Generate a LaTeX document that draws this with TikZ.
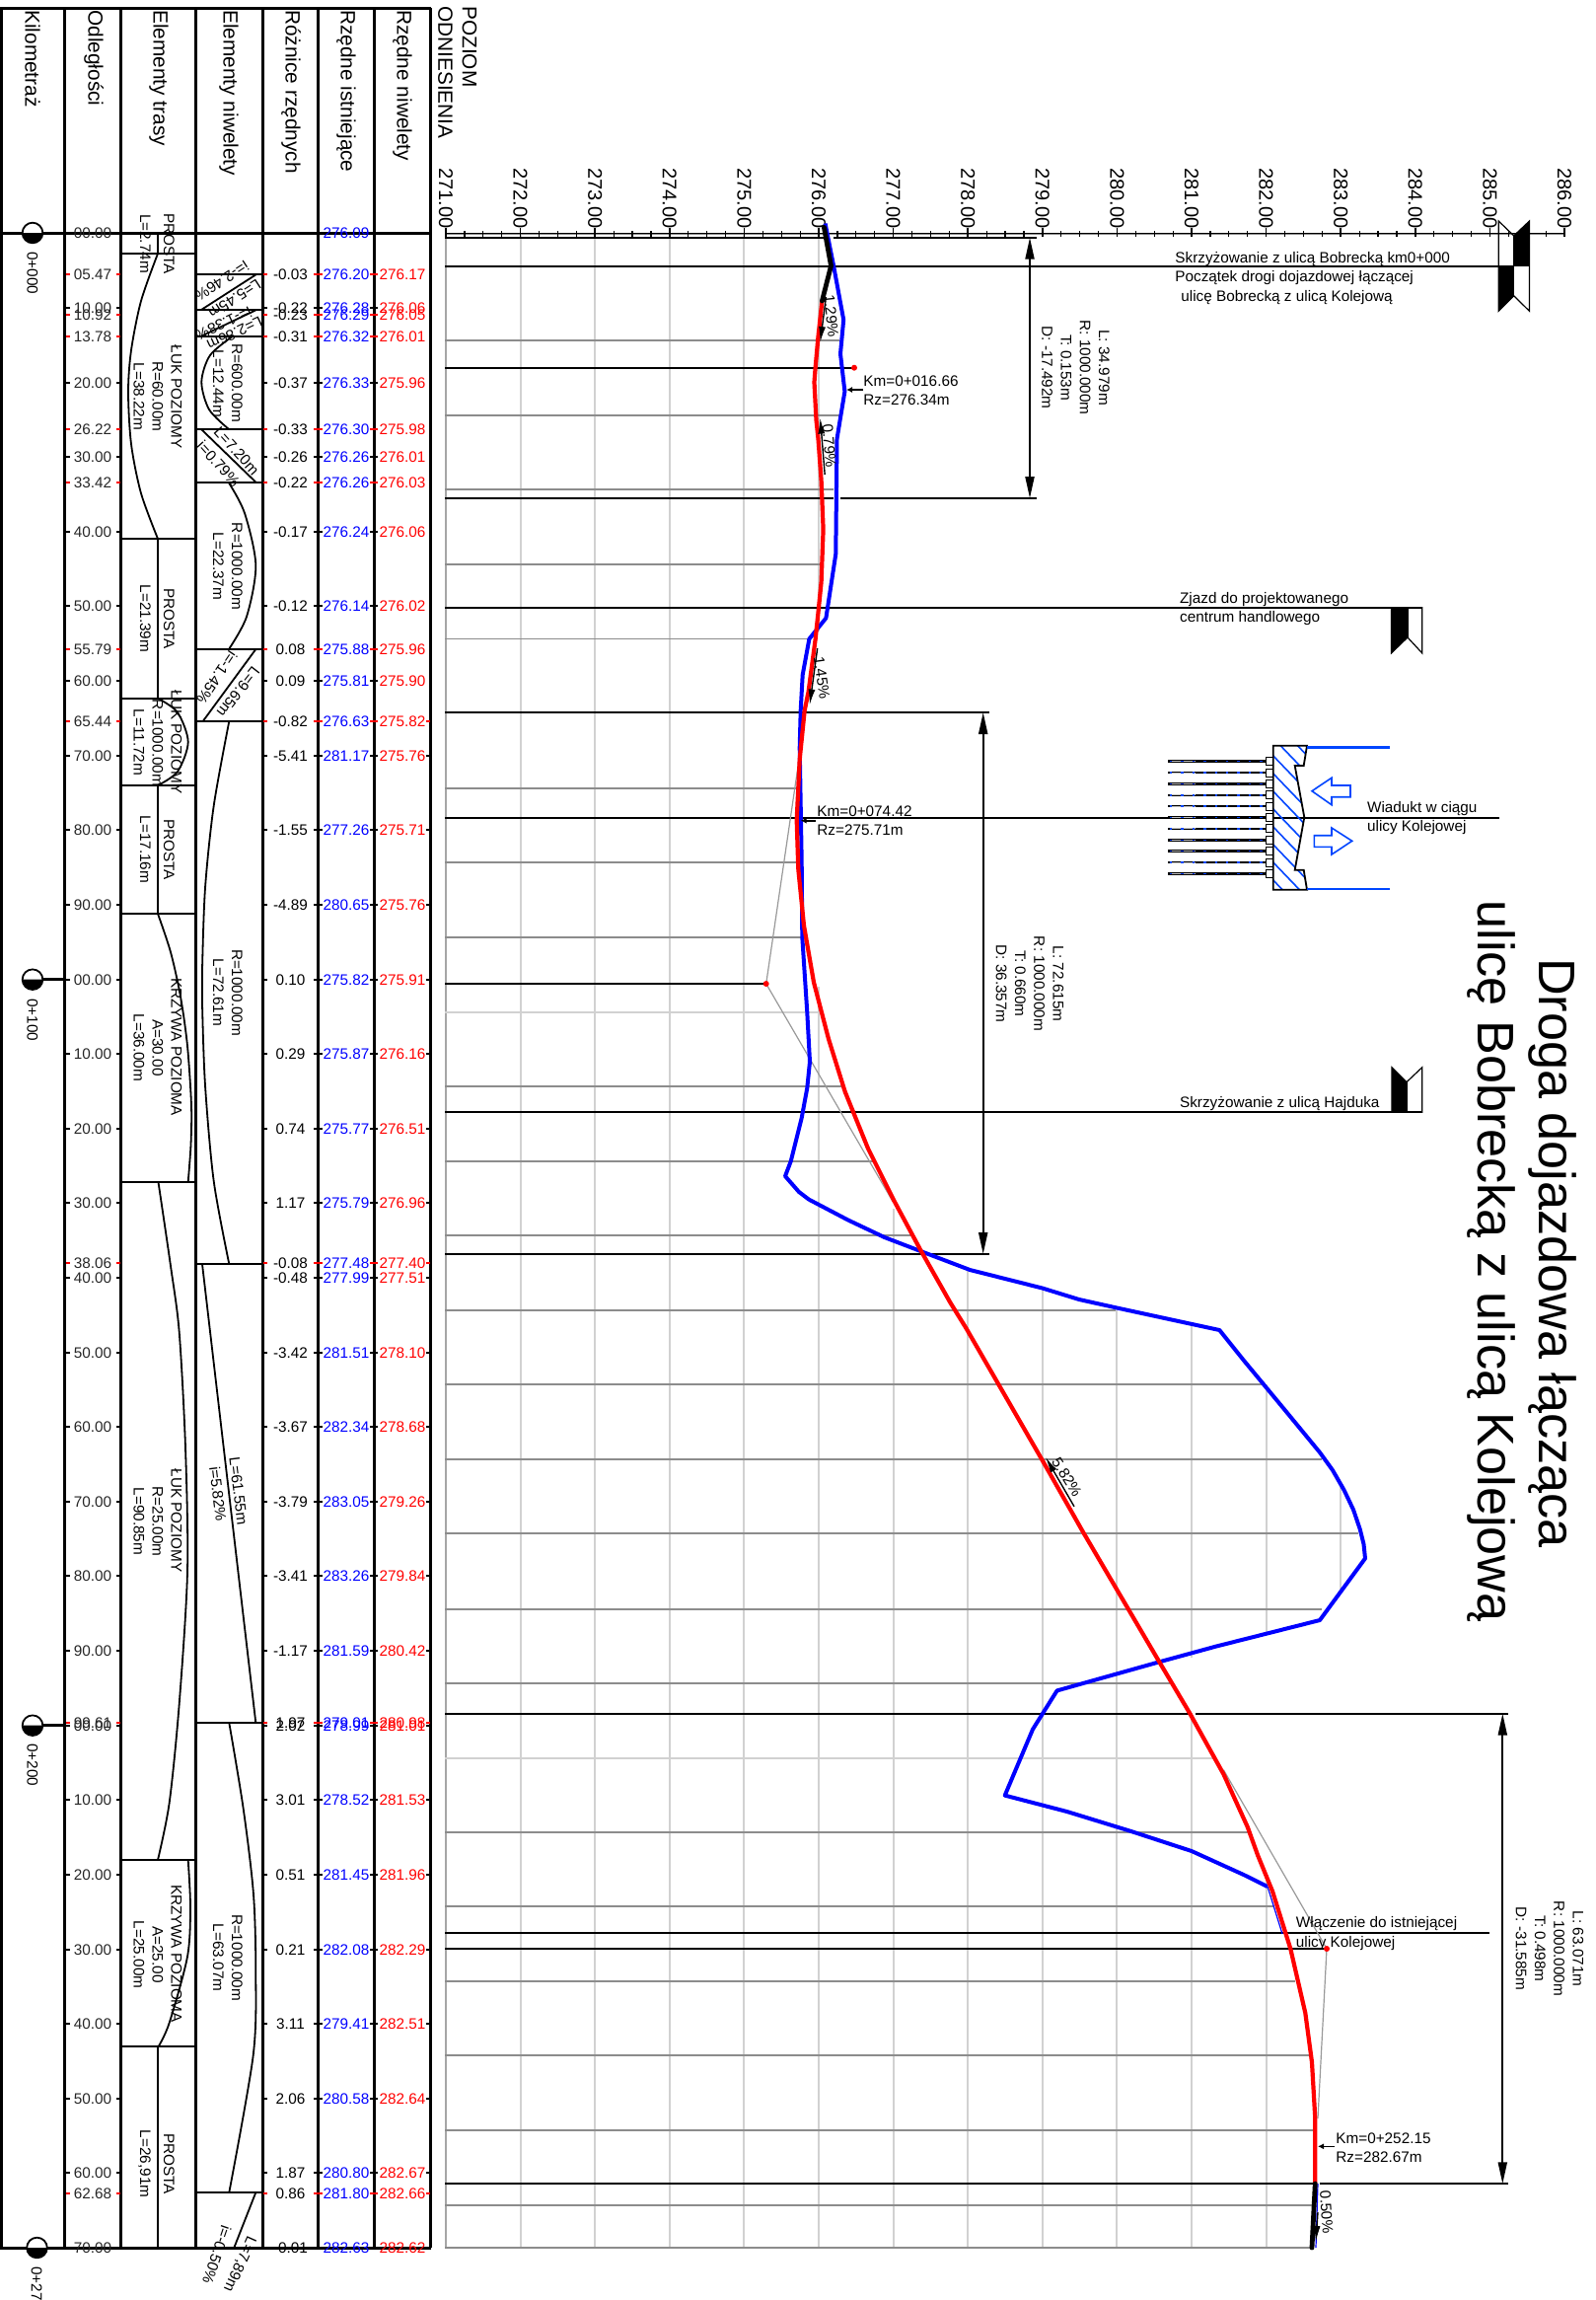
\documentclass[tikz,border=0pt]{standalone}
\usepackage{fontspec}
\setmainfont{Liberation Sans}
\usetikzlibrary{arrows.meta}
\definecolor{hatchblue}{RGB}{0,70,255}

\tikzset{
  frameline/.style={line width=1.5pt, black},
  partline/.style={line width=1.1pt, black},
  curveline/.style={line width=0.9pt, black},
  rowline/.style={line width=1pt, black},
  rowgray/.style={line width=0.9pt, black!45},
  gridline/.style={line width=1pt, black!18},
  tangent/.style={line width=0.6pt, black!40},
  rowtick/.style={line width=1pt},
  headtext/.style={rotate=-90, anchor=west, inner sep=0pt, font=\fontsize{10.4}{12}\selectfont},
  leveltext/.style={rotate=-90, anchor=east, inner sep=0pt, font=\fontsize{10}{12}\selectfont},
  celltext/.style={inner sep=0pt, text height=5.5pt, text depth=0pt, font=\fontsize{7.65}{9.6}\selectfont},
  turned/.style={celltext, rotate=-90},
  note/.style={celltext, anchor=west, align=left},
  curvedata/.style={rotate=-90, inner sep=0pt, align=center, font=\fontsize{7.65}{9.6}\selectfont},
  dimarrow/.style={line width=1pt, {Triangle[length=11pt,width=4.5pt]}-{Triangle[length=11pt,width=4.5pt]}},
  kmarrow/.style={line width=0.8pt, -{Latex[length=3pt,width=3pt]}},
  slopearrow/.style={line width=0.7pt, -{Latex[length=8pt,width=3.5pt]}},
  signline/.style={line width=0.6pt, black},
  niveline/.style={line width=2.1pt, red},
  terrain/.style={line width=2pt, blue},
  endline/.style={line width=2.4pt, black, line cap=round},
  bluerail/.style={line width=1.2pt, hatchblue},
  bluearrow/.style={line width=0.8pt, hatchblue, line join=miter},
  kmsign/.pic={
    \draw[line width=0.9pt, fill=white] (0,0) circle (10.3);
    \fill (-10.3,0) arc (180:0:10.3) -- cycle;
  }
}

% one row of the table: key, station, distance, difference, existing, design, tick colour
\newcommand{\tablerow}[7]{
  \pgfmathsetmacro{\rowy}{236.3+7.562*#2}
  \draw[rowtick,#7] (67,\rowy) -- (71,\rowy) (118,\rowy) -- (122,\rowy) (267,\rowy) -- (271,\rowy)
    (318,\rowy) -- (327,\rowy) (375,\rowy) -- (383,\rowy);
  \ifdim#2pt>60pt \draw[rowtick,#7] (432,\rowy) -- (436,\rowy); \fi
  \node[celltext, black!85] (#1d) at (94,\rowy) {#3};
  \node[celltext] (#1r) at (294.5,\rowy) {#4};
  \node[celltext, blue] (#1i) at (351,\rowy) {#5};
  \node[celltext, red] (#1n) at (408,\rowy) {#6};
}

\begin{document}
\begin{tikzpicture}[x=0.5pt, y=-0.5pt]
  \useasboundingbox (0,0) rectangle (1618,2331);

  % grid of the profile
  \foreach \gx in {527.6,603.2,678.8,754.4}
    \draw[gridline] (\gx,236) -- (\gx,2278);
  \draw[line width=1pt, black!35] (452,236) -- (452,2278);
  \draw[gridline] (830,236) -- (830,640) (830,1000) -- (830,2278);
  \draw[gridline] (905.6,1225) -- (905.6,2278);
  \draw[gridline] (981.2,1287) -- (981.2,2278);
  \draw[gridline] (1056.8,1305) -- (1056.8,2278);
  \draw[gridline] (1132.4,1326) -- (1132.4,2278);
  \draw[gridline] (1208,1343) -- (1208,1680) (1208,1736) -- (1208,2278);
  \draw[gridline] (1283.6,1403) -- (1283.6,1655) (1283.6,1900) -- (1283.6,2278);
  \draw[gridline] (1359,1506) -- (1359,1612);
  \foreach \ry/\rx in {345/851,421/851,496/845,571.7/832.6,647.5/819.6,799/806.7,874/808,950/813,1101/853,
      1177/885,1252/927,1328/1131,1403/1281,1479/1340,1554/1377,1631/1340,1706/1187,1857/1265,
      1932/1292,2008/1313,2083/1327,2159/1332,2235/1331,2278/1330}
    \draw[rowgray] (451,\ry) -- (\rx,\ry);
  \draw[gridline] (451,1026) -- (830,1026) (451,1781.5) -- (1232,1781.5);

  % level axis
  \draw[line width=1.2pt, black!45] (451,236.7) -- (1586,236.7);
  \draw[line width=0.5pt] (451,236.7) -- (1586,236.7);
  \foreach \k in {0,...,60}
    \draw[line width=0.6pt] ({452+18.9*\k},234) -- ({452+18.9*\k},240);
  \foreach \lv [count=\k from 0] in {271,...,286} {
    \draw[line width=0.8pt] ({452+75.6*\k},231) -- ({452+75.6*\k},240);
    \node[leveltext] (lv\lv) at ({452+75.6*\k},232) {\lv.00};
  }

  % table frame
  \foreach \cx in {1.5,65.7,122.7,198,266,322.7,379.3,436.7}
    \draw[frameline] (\cx,8) -- (\cx,2278);
  \draw[frameline] (0,8) -- (437,8);
  \draw[frameline] (0,236) -- (437,236);
  \draw[frameline] (0,2278) -- (437,2278);

  \node[headtext] (kmhead) at (33,10) {Kilometraż};
  \node[headtext] (disthead) at (95,10) {Odległości};
  \node[headtext] (routehead) at (161,10) {Elementy trasy};
  \node[headtext] (gradehead) at (232,10) {Elementy niwelety};
  \node[headtext] (diffhead) at (295,10) {Różnice rzędnych};
  \node[headtext] (existhead) at (351,10) {Rzędne istniejące};
  \node[headtext] (designhead) at (408,10) {Rzędne niwelety};
  \node[headtext] (levelhead) at (476,6) {POZIOM};
  \node[headtext] (refhead) at (451.5,6) {ODNIESIENIA};

  % kilometre column
  \draw[frameline] (33,992.7) -- (65.7,992.7) (33,1748.7) -- (65.7,1748.7);
  \pic at (33,236) {kmsign};
  \pic at (33,992.7) {kmsign};
  \pic at (33,1748.7) {kmsign};
  \pic at (37.5,2278) {kmsign};
  \node[turned, anchor=west] (km0) at (33,255) {0+000};
  \node[turned, anchor=west] (km100) at (33,1012) {0+100};
  \node[turned, anchor=west] (km200) at (33,1767) {0+200};
  \node[turned, anchor=west] (km270) at (37.5,2297) {0+27};

  % rows
  \tablerow{a}{0}{00.00}{}{276.09}{}{black}
  \tablerow{b}{5.47}{05.47}{-0.03}{276.20}{276.17}{red}
  \tablerow{c}{10}{10.00}{-0.22}{276.28}{276.06}{black}
  \tablerow{d}{10.92}{10.92}{-0.23}{276.29}{276.05}{red}
  \tablerow{e}{13.78}{13.78}{-0.31}{276.32}{276.01}{red}
  \tablerow{f}{20}{20.00}{-0.37}{276.33}{275.96}{black}
  \tablerow{g}{26.22}{26.22}{-0.33}{276.30}{275.98}{red}
  \tablerow{h}{30}{30.00}{-0.26}{276.26}{276.01}{black}
  \tablerow{i}{33.42}{33.42}{-0.22}{276.26}{276.03}{red}
  \tablerow{j}{40}{40.00}{-0.17}{276.24}{276.06}{black}
  \tablerow{k}{50}{50.00}{-0.12}{276.14}{276.02}{black}
  \tablerow{l}{55.79}{55.79}{0.08}{275.88}{275.96}{red}
  \tablerow{m}{60}{60.00}{0.09}{275.81}{275.90}{black}
  \tablerow{n}{65.44}{65.44}{-0.82}{276.63}{275.82}{red}
  \tablerow{o}{70}{70.00}{-5.41}{281.17}{275.76}{black}
  \tablerow{p}{80}{80.00}{-1.55}{277.26}{275.71}{black}
  \tablerow{q}{90}{90.00}{-4.89}{280.65}{275.76}{black}
  \tablerow{r}{100}{00.00}{0.10}{275.82}{275.91}{black}
  \tablerow{s}{110}{10.00}{0.29}{275.87}{276.16}{black}
  \tablerow{t}{120}{20.00}{0.74}{275.77}{276.51}{black}
  \tablerow{u}{130}{30.00}{1.17}{275.79}{276.96}{black}
  \tablerow{v}{138.06}{38.06}{-0.08}{277.48}{277.40}{red}
  \tablerow{w}{140}{40.00}{-0.48}{277.99}{277.51}{black}
  \tablerow{x}{150}{50.00}{-3.42}{281.51}{278.10}{black}
  \tablerow{y}{160}{60.00}{-3.67}{282.34}{278.68}{black}
  \tablerow{z}{170}{70.00}{-3.79}{283.05}{279.26}{black}
  \tablerow{aa}{180}{80.00}{-3.41}{283.26}{279.84}{black}
  \tablerow{ab}{190}{90.00}{-1.17}{281.59}{280.42}{black}
  \tablerow{ac}{199.61}{99.61}{1.97}{279.01}{280.98}{red}
  \tablerow{ad}{200}{00.00}{2.02}{278.99}{281.01}{black}
  \tablerow{ae}{210}{10.00}{3.01}{278.52}{281.53}{black}
  \tablerow{af}{220}{20.00}{0.51}{281.45}{281.96}{black}
  \tablerow{ag}{230}{30.00}{0.21}{282.08}{282.29}{black}
  \tablerow{ah}{240}{40.00}{3.11}{279.41}{282.51}{black}
  \tablerow{ai}{250}{50.00}{2.06}{280.58}{282.64}{black}
  \tablerow{aj}{260}{60.00}{1.87}{280.80}{282.67}{black}
  \tablerow{ak}{262.68}{62.68}{0.86}{281.80}{282.66}{red}
  \tablerow{al}{270}{70.00}{-0.01}{282.63}{282.62}{black}

  % route elements
  \draw[partline] (122.7,257) -- (198,257) (122.7,546) -- (198,546) (122.7,707.7) -- (198,707.7)
    (122.7,796) -- (198,796) (122.7,926) -- (198,926) (122.7,1198) -- (198,1198)
    (122.7,1885) -- (198,1885) (122.7,2074) -- (198,2074);
  \draw[partline] (160,236) -- (160,257) (160,546) -- (160,707.7) (160,796) -- (160,926) (160,2074) -- (160,2278);
  \draw[curveline] plot[smooth] coordinates {(160,257) (143,305) (133,355) (130,397) (133,450) (143,500) (160,546)};
  \draw[curveline] plot[smooth] coordinates {(160,707.7) (180,722) (190.7,752) (180,782) (160,796)};
  \draw[curveline] plot[smooth] coordinates {(160,926) (173,965) (183,1010) (190,1060) (194,1120) (193.5,1160) (190.7,1198)};
  \draw[curveline] plot[smooth] coordinates {(160.5,1198) (173,1283) (181.7,1350) (188,1467) (190,1593) (181.7,1727) (171.7,1827) (160,1885)};
  \draw[curveline] plot[smooth] coordinates {(190.7,1885) (193,1933) (190,1983) (171.7,2050) (160.7,2074)};
  \node[turned] (rtA) at (171.7,247) {PROSTA};
  \node[turned] (rtB) at (147.7,247) {L=2.74m};
  \node[turned] (rtC) at (179,402) {ŁUK POZIOMY};
  \node[turned] (rtD) at (160,402) {R=60.00m};
  \node[turned] (rtE) at (141,402) {L=38.22m};
  \node[turned] (rtF) at (171.7,627) {PROSTA};
  \node[turned] (rtG) at (147.7,627) {L=21.39m};
  \node[turned] (rtH) at (179,752) {ŁUK POZIOMY};
  \node[turned] (rtI) at (160,753) {R=1000.00m};
  \node[turned] (rtJ) at (141,752.5) {L=11.72m};
  \node[turned] (rtK) at (171.7,861) {PROSTA};
  \node[turned] (rtL) at (147.7,861) {L=17.16m};
  \node[turned] (rtM) at (179,1061) {KRZYWA POZIOMA};
  \node[turned] (rtN) at (160,1062) {A=30.00};
  \node[turned] (rtO) at (141,1062) {L=36.00m};
  \node[turned] (rtP) at (179,1541) {ŁUK POZIOMY};
  \node[turned] (rtQ) at (160,1542) {R=25.00m};
  \node[turned] (rtR) at (141,1542) {L=90.85m};
  \node[turned] (rtS) at (179,1980) {KRZYWA POZIOMA};
  \node[turned] (rtT) at (160,1981) {A=25.00};
  \node[turned] (rtU) at (141,1981) {L=25.00m};
  \node[turned] (rtV) at (171.7,2193) {PROSTA};
  \node[turned] (rtW) at (147.7,2193) {L=26,91m};

  % grade elements
  \draw[partline] (198,278) -- (266,278) (198,314) -- (266,314) (198,340.7) -- (266,340.7)
    (198,435) -- (266,435) (198,489.3) -- (266,489.3) (198,658) -- (266,658) (198,731) -- (266,731)
    (198,1281) -- (266,1281) (198,1746) -- (266,1746) (198,2222) -- (266,2222);
  \draw[curveline] (260,278) -- (204,314);
  \draw[curveline] (260,314) -- (204,340.7);
  \draw[curveline] (204,435) -- (260,489.3);
  \draw[curveline] (259.3,658) -- (205.7,731);
  \draw[curveline] (205,1281) -- (259.3,1746);
  \draw[curveline] (259.3,2222) -- (237.3,2278);
  \draw[curveline] plot[smooth] coordinates {(236,340.7) (213,360) (204.3,387) (212,415) (232,435)};
  \draw[curveline] plot[smooth] coordinates {(232,489.3) (248,520) (259.3,573) (250,625) (232,658)};
  \draw[curveline] plot[smooth] coordinates {(232.3,731) (216.7,816.7) (208,900) (205,983) (205,1017) (208,1100) (216.7,1197) (232.3,1281)};
  \draw[curveline] plot[smooth] coordinates {(232.3,1746) (246.7,1833) (257,1920) (259.3,2000) (256.7,2083) (232.3,2222)};
  \node[celltext, rotate=-147] (grA) at (225,285) {i=-2.46\%};
  \node[celltext, rotate=-147] (grB) at (238,303) {L=5.45m};
  \node[celltext, rotate=-155] (grC) at (226.7,328) {i=-1.38\%};
  \node[celltext, rotate=-155] (grD) at (238,338) {L=2.86m};
  \node[turned] (grE) at (240.7,388) {R=600.00m};
  \node[turned] (grF) at (221.7,389) {L=12.44m};
  \node[celltext, rotate=-48] (grG) at (221.7,470) {i=0.79\%};
  \node[celltext, rotate=-48] (grH) at (240,456.7) {L=7.20m};
  \node[turned] (grI) at (240.7,574) {R=1000.00m};
  \node[turned] (grJ) at (221.7,574) {L=22.37m};
  \node[celltext, rotate=-124] (grK) at (220,686.7) {i=-1.45\%};
  \node[celltext, rotate=-128] (grL) at (241.7,701.7) {L=9.65m};
  \node[turned] (grM) at (240.7,1006) {R=1000.00m};
  \node[turned] (grN) at (221.7,1006) {L=72.61m};
  \node[celltext, rotate=-83] (grO) at (242,1511) {L=61.55m};
  \node[celltext, rotate=-83] (grP) at (221,1514) {i=5.82\%};
  \node[turned] (grQ) at (240.7,1984) {R=1000.00m};
  \node[turned] (grR) at (221.7,1984) {L=63.07m};
  \node[celltext, rotate=-109] (grS) at (220,2285) {i=-0.50\%};
  \node[celltext, rotate=-114] (grT) at (244,2295) {L=7,89m};

  % long lines of the profile
  \draw[rowline] (451,240.7) -- (835,240.7) (845,240.7) -- (1051,240.7);
  \draw[rowline] (451,269.5) -- (1519,269.5);
  \draw[rowline] (451,372.7) -- (866,372.7);
  \draw[rowline] (451,505) -- (845,505) (852.4,505) -- (1051,505);
  \draw[rowline] (451,615.6) -- (1441.8,615.6);
  \draw[rowline] (451,722) -- (1002.7,722);
  \draw[rowline] (451,829) -- (1520,829);
  \draw[rowline] (451,996.7) -- (776,996.7);
  \draw[rowline] (451,1127.3) -- (1441.7,1127.3);
  \draw[rowline] (451,1271) -- (1002.7,1271);
  \draw[rowline] (451,1736.6) -- (1206,1736.6) (1212,1736.6) -- (1529,1736.6);
  \draw[rowline] (451,1959) -- (1510,1959);
  \draw[rowline] (451,1975) -- (1345,1975);
  \draw[rowline] (451,2213.3) -- (1333,2213.3) (1338,2213.3) -- (1529,2213.3);

  % tangents
  \coordinate (vertexA) at (776.7,997);
  \coordinate (vertexB) at (1345,1975);
  \draw[tangent] (810,770) -- (vertexA) -- (905,1217.5);
  \draw[tangent] (1240.4,1793.7) -- (vertexB) -- (1336,2147);
  \fill[red] (866,372.7) circle (3);
  \fill[red] (vertexA) circle (3);
  \fill[red] (vertexB) circle (3);

  % existing ground
  \draw[terrain, line join=round] plot coordinates {(836.6,226.5) (845.3,270.5) (855.2,324) (852,358.6) (856.4,396.8)
    (848.5,444.7) (847.3,561.4) (837.4,626.4) (820.4,647.5) (813.7,683.9) (811.7,720) (810.7,758) (812.7,873)
    (813.3,949.6) (818.3,1026) (821,1076) (818.3,1102.7) (812.7,1133) (801.7,1177) (796,1192) (810,1208)
    (820,1215.6) (860,1236.6) (896.7,1254) (933.3,1268) (983.3,1287) (1056.7,1305.5) (1094,1317) (1134.6,1326)
    (1236.3,1348) (1260.8,1378.6) (1301.5,1427.7) (1338,1472) (1351,1490) (1362.5,1510) (1372,1530) (1378.8,1550)
    (1382.5,1565) (1384,1579.4) (1338,1642)
    (1232.3,1668.7) (1175.3,1684.3) (1071.6,1713.4) (1047,1752.6) (1018.7,1819.6) (1081.7,1836) (1146.8,1856)
    (1208,1876) (1260.8,1900) (1285,1912)};
  \draw[line width=0.6pt, blue] (1285,1912) -- (1300,1960) (1336,2213) -- (1334,2278);

  % design line
  \draw[niveline, line join=round] plot coordinates {(833.4,305) (829.5,341) (826.7,372) (825.5,387.3) (827.5,425.5)
    (829.5,444.7) (832.6,486.8) (834.6,536.5) (832.6,590) (829.5,620.7) (826.7,647.5) (819.6,701) (815.7,720)
    (810.7,769.7) (807.7,831) (809.3,880.7) (815,938) (825,995.5) (840,1053) (856.7,1106.5) (880,1164) (906.7,1217.5)
    (933.3,1267) (963.3,1320) (980,1347) (1057.3,1481) (1098,1552.7) (1175.3,1684.3) (1205.8,1735.7) (1240.4,1798)
    (1264.8,1851.7) (1275,1880) (1290,1916.7) (1308.3,1975) (1323.3,2040) (1330,2090) (1333.3,2146.7) (1333.3,2213)};
  \draw[endline] (835.4,230.4) -- (842.5,269.4) -- (833.4,305);
  \draw[endline] (1333.3,2213) -- (1330,2278);

  % slopes
  \draw[slopearrow] (837.4,301) -- (831.5,347);
  \node[celltext, rotate=-84] (slopeA) at (843,320) {1.29\%};
  \draw[slopearrow] (836.2,481) -- (831.5,423.6);
  \node[celltext, rotate=-85] (slopeB) at (841,452) {0.79\%};
  \draw[slopearrow] (828.7,657) -- (820.8,714.5);
  \node[celltext, rotate=-82] (slopeC) at (833.4,686.7) {1.45\%};
  \draw[slopearrow] (1089,1526.8) -- (1060,1476.8);
  \node[celltext, rotate=-58] (slopeD) at (1081.7,1497) {5.82\%};
  \draw[slopearrow] (1336,2242) -- (1334,2272);
  \node[celltext, rotate=-86] (slopeE) at (1345,2242) {0.50\%};

  % curve data
  \coordinate (dimA1) at (1044,240.7);
  \coordinate (dimA2) at (1044,505);
  \coordinate (dimB1) at (996.7,722);
  \coordinate (dimB2) at (996.7,1271);
  \coordinate (dimC1) at (1523.3,1736.6);
  \coordinate (dimC2) at (1523.3,2213.3);
  \draw[dimarrow] (dimA1) -- (dimA2);
  \draw[dimarrow] (dimB1) -- (dimB2);
  \draw[dimarrow] (dimC1) -- (dimC2);
  \node[curvedata] (curveA) at (1090.5,372.6) {L: 34.979m\\R: 1000.000m\\T: 0.153m\\D: -17.492m};
  \node[curvedata] (curveB) at (1044,997) {L: 72.615m\\R: 1000.000m\\T: 0.660m\\D: 36.357m};
  \node[curvedata] (curveC) at (1571,1975) {L: 63.071m\\R: 1000.000m\\T: 0.498m\\D: -31.585m};

  % extreme points
  \coordinate (kmA) at (858,395);
  \coordinate (kmB) at (811.7,831.7);
  \coordinate (kmC) at (1336,2175.3);
  \draw[kmarrow] (875,395) -- (kmA);
  \draw[kmarrow] (827,831.7) -- (kmB);
  \draw[kmarrow] (1353,2175.3) -- (kmC);
  \node[note] (extA) at (875,405) {Km=0+016.66\\Rz=276.34m};
  \node[note] (extB) at (828,841) {Km=0+074.42\\Rz=275.71m};
  \node[note] (extC) at (1354,2186) {Km=0+252.15\\Rz=282.67m};

  % crossing at the start
  \fill (1534.7,238.9) -- (1550.5,224) -- (1550.5,269.5) -- (1534.7,269.5) -- cycle;
  \fill (1519.2,269.5) -- (1534.7,269.5) -- (1534.7,299.8) -- (1519.2,315.3) -- cycle;
  \draw[signline] (1519.2,224) -- (1534.7,238.9) -- (1550.5,224) -- (1550.5,315.3) -- (1534.7,299.8) -- (1519.2,315.3) -- cycle;
  \draw[signline] (1534.7,238.9) -- (1534.7,299.8) (1519.2,269.5) -- (1550.5,269.5);
  \node[note] (startA) at (1191,261) {Skrzyżowanie z ulicą Bobrecką km0+000};
  \node[note] (startB) at (1191,280) {Początek drogi dojazdowej łączącej};
  \node[note] (startC) at (1197,299.5) {ulicę Bobrecką z ulicą Kolejową};

  % access road
  \fill (1410.4,615.6) -- (1427,615.6) -- (1427,646) -- (1410.4,662) -- cycle;
  \draw[signline] (1410.4,615.6) -- (1441.8,615.6) -- (1441.8,662) -- (1427,646) -- (1410.4,662) -- cycle;
  \draw[signline] (1427,615.6) -- (1427,646);
  \node[note] (accessA) at (1195.7,606) {Zjazd do projektowanego};
  \node[note] (accessB) at (1195.7,625) {centrum handlowego};

  % Hajduka
  \fill (1411,1081.7) -- (1426,1096.7) -- (1426,1127.3) -- (1411,1127.3) -- cycle;
  \draw[signline] (1411,1081.7) -- (1426,1096.7) -- (1441.7,1081.7) -- (1441.7,1127.3) -- (1411,1127.3) -- cycle;
  \draw[signline] (1426,1096.7) -- (1426,1127.3);
  \node[note] (hajdukaA) at (1195.7,1116.7) {Skrzyżowanie z ulicą Hajduka};

  % viaduct
  \foreach \k in {0,...,10} {
    \pgfmathsetmacro{\py}{771.7+11.37*\k}
    \draw[line width=1.3pt] (1184.3,\py) -- (1283.3,\py);
    \draw[line width=0.5pt, black!25] (1186,\py) -- (1212,\py);
    \draw[line width=0.7pt, hatchblue, dash pattern=on 1.2pt off 4.5pt] (1186,\py) -- (1283,\py);
    \draw[line width=0.5pt, fill=white] (1283.3,\py-4) rectangle (1290.7,\py+4);
  }
  \begin{scope}
    \clip (1290.7,755.7) -- (1325,755.7) -- (1321.7,776) -- (1312.7,776) -- (1322.3,828.3) -- (1312.7,881.7)
      -- (1321.7,881.7) -- (1325,901.7) -- (1290.7,901.7) -- cycle;
    \foreach \hy in {706,724,...,900}
      \draw[line width=0.8pt, hatchblue] (1285,\hy) -- (1335,\hy+52);
  \end{scope}
  \draw[line width=0.9pt] (1290.7,755.7) -- (1325,755.7) -- (1321.7,776) -- (1312.7,776) -- (1322.3,828.3) -- (1312.7,881.7)
    -- (1321.7,881.7) -- (1325,901.7) -- (1290.7,901.7) -- cycle;
  \draw[bluerail] (1325,757.3) -- (1409,757.3);
  \draw[bluerail] (1325,901) -- (1409,901);
  \draw[bluearrow] (1330,801.7) -- (1350,788.3) -- (1350,796) -- (1369,796) -- (1369,807.7) -- (1350,807.7) -- (1350,815.7) -- cycle;
  \draw[bluearrow] (1370.7,852.3) -- (1350,839) -- (1350,846.7) -- (1332.3,846.7) -- (1332.3,858.3) -- (1350,858.3) -- (1350,866) -- cycle;
  \node[note] (viaductA) at (1385.7,818) {Wiadukt w ciągu};
  \node[note] (viaductB) at (1385.7,837.3) {ulicy Kolejowej};
  \node[note] (joinA) at (1313.5,1948.3) {Włączenie do istniejącej};
  \node[note] (joinB) at (1313.5,1967.7) {ulicy Kolejowej};

  % title
  \node[rotate=-90, anchor=base, inner sep=0pt, font=\fontsize{26.1}{30}\selectfont] (titleA) at (1560,1270) {Droga dojazdowa łącząca};
  \node[rotate=-90, anchor=base, inner sep=0pt, font=\fontsize{26.1}{30}\selectfont] (titleB) at (1498.8,1278) {ulicę Bobrecką z ulicą Kolejową};
\end{tikzpicture}
\end{document}
